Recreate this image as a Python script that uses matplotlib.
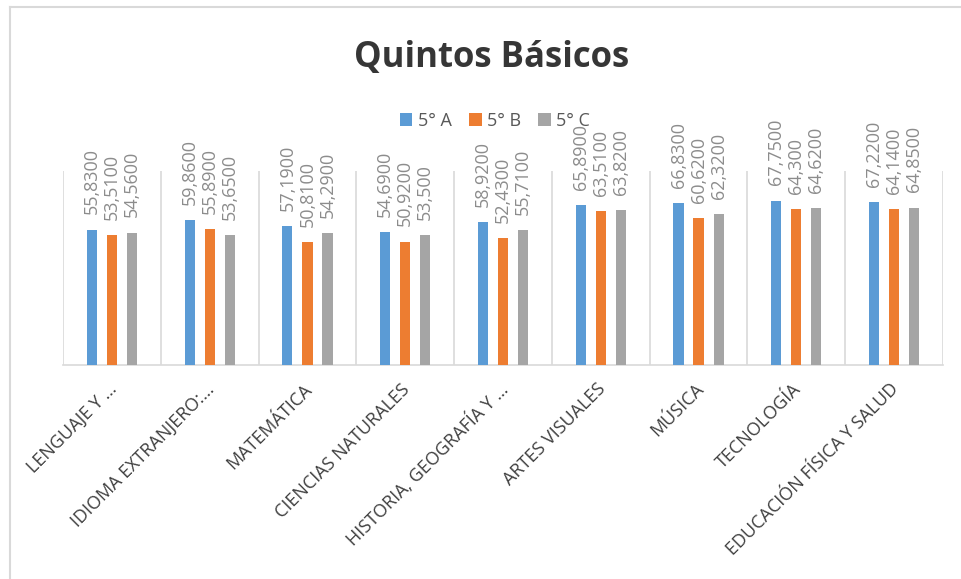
import matplotlib
matplotlib.use('Agg')
import matplotlib.pyplot as plt
from matplotlib.lines import Line2D
import numpy as np

plt.rcParams['font.family'] = ['Open Sans', 'DejaVu Sans']

categories = ["LENGUAJE Y …", "IDIOMA EXTRANJERO:…", "MATEMÁTICA", "CIENCIAS NATURALES",
              "HISTORIA, GEOGRAFÍA Y …", "ARTES VISUALES", "MÚSICA", "TECNOLOGÍA",
              "EDUCACIÓN FÍSICA Y SALUD"]
series_names = ["5° A", "5° B", "5° C"]
values_a = [55.83, 59.86, 57.19, 54.69, 58.92, 65.89, 66.83, 67.75, 67.22]
values_b = [53.51, 55.89, 50.81, 50.92, 52.43, 63.51, 60.62, 64.30, 64.14]
values_c = [54.56, 53.65, 54.29, 53.50, 55.71, 63.82, 62.32, 64.62, 64.85]
labels_a = ["55,8300", "59,8600", "57,1900", "54,6900", "58,9200", "65,8900", "66,8300", "67,7500", "67,2200"]
labels_b = ["53,5100", "55,8900", "50,8100", "50,9200", "52,4300", "63,5100", "60,6200", "64,300", "64,1400"]
labels_c = ["54,5600", "53,6500", "54,2900", "53,500", "55,7100", "63,8200", "62,3200", "64,6200", "64,8500"]
colors = ['#5B9BD5', '#ED7D31', '#A5A5A5']

W, H = 962, 579
fig = plt.figure(figsize=(W / 100, H / 100), dpi=100)
ax = fig.add_axes([63 / W, 1 - 365 / H, 880 / W, 194 / H])

x = np.arange(len(categories))
offsets = [-0.205, 0.0, 0.205]
width = 0.104
bars = []
for vals, labs, off, col, name in zip([values_a, values_b, values_c],
                                      [labels_a, labels_b, labels_c],
                                      offsets, colors, series_names):
    b = ax.bar(x + off, vals, width=width, color=col, label=name, zorder=3)
    bars.append(b)
    for xi, v, lab in zip(x + off, vals, labs):
        ax.annotate(lab, (xi, v), xytext=(0, 11), textcoords='offset points',
                    rotation=90, ha='center', va='bottom', fontsize=13,
                    color='#8C8C8C')

ax.set_xlim(-0.5, len(categories) - 0.5)
ax.set_ylim(0, 80)
ax.vlines(np.arange(-0.5, len(categories)), 0, 80, color='#D9D9D9', lw=1.2, zorder=1)
for s in ['top', 'left', 'right']:
    ax.spines[s].set_visible(False)
ax.spines['bottom'].set_color('#D9D9D9')
ax.spines['bottom'].set_linewidth(1.2)
ax.set_xticks([])
ax.set_yticks([])

for xi, cat in zip(x, categories):
    ax.annotate(cat, (xi, 0), xytext=(1.5, -15.5), textcoords='offset points',
                rotation=45, rotation_mode='anchor', ha='right', va='center',
                fontsize=13, color='#404040', annotation_clip=False)

fig.text(491.5 / W, 1 - 67 / H, "Quintos Básicos", ha='center', va='baseline',
         fontsize=25, fontweight='bold', color='#363636')

fig.legend(handles=bars, labels=series_names, ncol=3, frameon=False,
           loc='center', bbox_to_anchor=(495 / W, 1 - 121 / H),
           fontsize=13, handlelength=0.7, handleheight=0.7, handletextpad=0.3,
           columnspacing=0.95, labelcolor='#595959', borderpad=0)

fig.add_artist(Line2D([10 / W, 10 / W], [0, 1 - 7 / H], transform=fig.transFigure,
                      color='#D9D9D9', lw=1.5))
fig.add_artist(Line2D([10 / W, 1], [1 - 7 / H, 1 - 7 / H], transform=fig.transFigure,
                      color='#D9D9D9', lw=1.5))

fig.savefig('out.png', dpi=100, facecolor='white')
